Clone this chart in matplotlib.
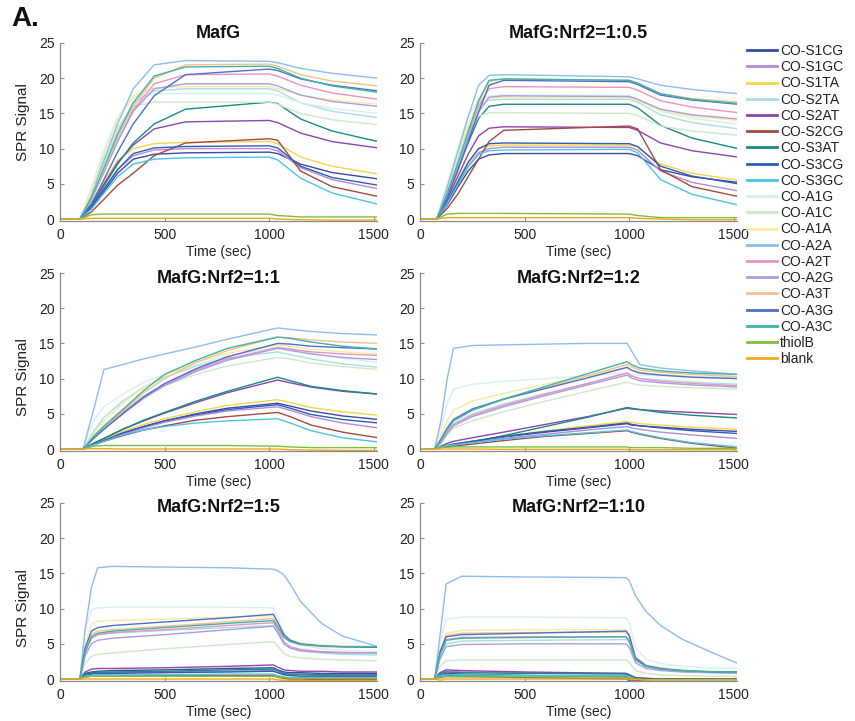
import matplotlib
matplotlib.use('Agg')
import matplotlib.pyplot as plt
from matplotlib.lines import Line2D

plt.rcParams['font.family'] = ['Liberation Sans', 'DejaVu Sans']

names = ['CO-S1CG', 'CO-S1GC', 'CO-S1TA', 'CO-S2TA', 'CO-S2AT', 'CO-S2CG', 'CO-S3AT',
         'CO-S3CG', 'CO-S3GC', 'CO-A1G', 'CO-A1C', 'CO-A1A', 'CO-A2A', 'CO-A2T',
         'CO-A2G', 'CO-A3T', 'CO-A3G', 'CO-A3C', 'thiolB', 'blank']
colors = ['#3b4aa3', '#b58bd6', '#f7d54a', '#a8e0e0', '#8e44ad', '#a44a3f', '#1b8a80',
          '#2e5cb8', '#4cc3ec', '#d6f0f2', '#cfe8c8', '#f8eba0', '#8dbcee', '#ea92c4',
          '#a99ee0', '#f8bf8c', '#4f6fcc', '#3db5a5', '#7fbf3f', '#f2a81d']

titles = ['MafG', 'MafG:Nrf2=1:0.5', 'MafG:Nrf2=1:1', 'MafG:Nrf2=1:2',
          'MafG:Nrf2=1:5', 'MafG:Nrf2=1:10']

# ---- MafG ----
t_mafg = [0, 95, 150, 200, 275, 350, 450, 600, 1000, 1040, 1150, 1300, 1520]
v_mafg = [
    [0, 0, 1.5, 3.5, 6.5, 8.5, 9.2, 9.4, 9.5, 9.3, 7.8, 6.6, 5.7],
    [0, 0, 1.6, 3.8, 7.0, 9.0, 9.8, 10.0, 10.0, 9.7, 7.3, 5.6, 4.3],
    [0, 0, 2.0, 4.8, 8.3, 10.0, 10.7, 10.9, 11.0, 10.7, 8.8, 7.5, 6.4],
    [0, 0, 3.5, 7.0, 12.5, 16.5, 18.2, 18.5, 18.5, 18.2, 16.5, 15.3, 14.4],
    [0, 0, 2.0, 4.5, 8.0, 10.5, 12.8, 13.8, 14.0, 13.7, 12.2, 11.0, 10.1],
    [0, 0, 1.0, 2.5, 4.8, 6.5, 9.0, 10.8, 11.4, 11.2, 6.8, 4.6, 3.2],
    [0, 0, 1.8, 4.2, 7.8, 10.8, 13.5, 15.6, 16.6, 16.4, 14.2, 12.5, 11.0],
    [0, 0, 1.6, 3.8, 7.0, 9.3, 10.1, 10.3, 10.4, 10.1, 7.5, 5.9, 4.8],
    [0, 0, 1.4, 3.3, 6.0, 7.8, 8.5, 8.7, 8.8, 8.4, 5.8, 3.7, 2.1],
    [0, 0, 4.5, 9.0, 14.5, 17.3, 17.8, 17.8, 17.8, 17.6, 16.5, 15.7, 15.0],
    [0, 0, 3.8, 8.0, 13.0, 16.0, 16.6, 16.6, 16.6, 16.3, 15.0, 14.1, 13.4],
    [0, 0, 4.0, 8.5, 14.0, 17.5, 18.6, 18.8, 18.8, 18.5, 17.6, 16.9, 16.3],
    [0, 0, 3.2, 7.5, 13.5, 18.5, 21.9, 22.5, 22.4, 22.2, 21.4, 20.7, 20.0],
    [0, 0, 2.8, 6.0, 11.0, 15.5, 19.2, 20.5, 20.6, 20.3, 19.0, 17.9, 17.0],
    [0, 0, 2.8, 6.0, 11.0, 15.3, 18.5, 19.2, 19.2, 18.9, 17.6, 16.7, 16.0],
    [0, 0, 2.8, 6.2, 11.5, 16.0, 20.0, 21.9, 22.0, 21.7, 20.5, 19.6, 18.9],
    [0, 0, 2.2, 5.0, 9.5, 13.5, 17.5, 20.5, 21.3, 21.1, 19.9, 19.0, 18.2],
    [0, 0, 3.0, 6.5, 12.0, 16.5, 20.3, 21.6, 21.7, 21.4, 20.0, 18.9, 18.0],
    [0, 0, 0.6, 0.7, 0.7, 0.7, 0.7, 0.7, 0.7, 0.5, 0.3, 0.3, 0.3],
    [0, 0, 0.1, 0.1, 0.1, 0.1, 0.1, 0.1, 0.1, 0.0, -0.1, -0.15, -0.15],
]

# ---- MafG:Nrf2=1:0.5 ----
t_r05 = [0, 80, 130, 180, 230, 280, 330, 400, 1000, 1040, 1150, 1300, 1520]
v_r05 = [
    [0, 0, 2.0, 4.5, 6.8, 8.5, 9.1, 9.3, 9.3, 9.0, 7.0, 6.0, 5.2],
    [0, 0, 2.2, 5.0, 7.5, 9.4, 10.0, 10.2, 10.2, 9.8, 6.8, 5.2, 4.0],
    [0, 0, 2.5, 5.5, 8.2, 10.0, 10.4, 10.5, 10.5, 10.2, 7.8, 6.5, 5.5],
    [0, 0, 4.0, 8.5, 12.8, 16.0, 16.9, 17.0, 17.0, 16.6, 14.8, 13.7, 12.8],
    [0, 0, 2.8, 6.0, 9.2, 11.8, 12.9, 13.1, 13.0, 12.6, 10.8, 9.7, 8.8],
    [0, 0, 1.5, 3.5, 6.0, 8.5, 11.0, 12.6, 13.2, 12.8, 7.0, 4.6, 3.2],
    [0, 0, 3.2, 7.0, 10.8, 14.3, 16.0, 16.3, 16.3, 15.8, 13.3, 11.5, 10.0],
    [0, 0, 2.4, 5.2, 8.0, 10.0, 10.7, 10.8, 10.7, 10.3, 7.5, 6.1, 5.0],
    [0, 0, 2.2, 4.8, 7.4, 9.2, 9.7, 9.8, 9.9, 9.4, 5.6, 3.5, 2.0],
    [0, 0, 5.0, 10.0, 14.5, 17.0, 17.5, 17.6, 17.5, 17.1, 15.3, 14.3, 13.5],
    [0, 0, 4.0, 8.5, 12.0, 14.6, 15.1, 15.1, 15.0, 14.7, 13.2, 12.5, 11.9],
    [0, 0, 4.5, 9.2, 13.5, 16.6, 17.2, 17.3, 17.2, 16.8, 15.4, 14.6, 14.0],
    [0, 0, 4.5, 9.5, 14.5, 19.0, 20.4, 20.5, 20.2, 19.9, 19.0, 18.4, 17.8],
    [0, 0, 3.6, 7.8, 12.0, 16.0, 18.5, 18.8, 18.7, 18.3, 16.8, 15.9, 15.1],
    [0, 0, 3.5, 7.5, 11.5, 15.2, 17.3, 17.5, 17.4, 17.0, 15.6, 14.8, 14.2],
    [0, 0, 3.6, 7.8, 12.2, 16.5, 19.6, 19.9, 19.7, 19.3, 17.8, 17.1, 16.6],
    [0, 0, 3.0, 6.8, 11.0, 15.2, 19.0, 19.7, 19.5, 19.1, 17.6, 16.9, 16.3],
    [0, 0, 3.6, 7.8, 12.3, 16.8, 19.7, 19.9, 19.7, 19.3, 17.8, 17.0, 16.4],
    [0, 0, 0.7, 0.8, 0.8, 0.8, 0.8, 0.8, 0.7, 0.5, 0.2, 0.2, 0.2],
    [0, 0, 0.2, 0.2, 0.2, 0.2, 0.2, 0.2, 0.2, 0.1, 0.0, -0.1, -0.1],
]

# ---- MafG:Nrf2=1:1 ----
t_r1 = [0, 110, 160, 210, 300, 400, 500, 650, 800, 1040, 1100, 1200, 1350, 1520]
v_r1 = [
    [0, 0, 0.6, 1.2, 2.2, 3.2, 4.0, 5.0, 5.8, 6.5, 6.1, 5.4, 4.7, 4.2],
    [0, 0, 0.6, 1.1, 2.1, 3.0, 3.8, 4.7, 5.4, 6.0, 5.5, 4.6, 3.7, 3.0],
    [0, 0, 0.8, 1.4, 2.5, 3.5, 4.3, 5.3, 6.2, 7.0, 6.6, 5.9, 5.3, 4.8],
    [0, 0, 2.5, 4.5, 6.8, 8.8, 10.2, 11.8, 12.9, 13.8, 13.4, 12.8, 12.1, 11.6],
    [0, 0, 0.8, 1.5, 2.8, 4.0, 5.1, 6.6, 8.0, 9.8, 9.4, 8.8, 8.2, 7.8],
    [0, 0, 0.6, 1.1, 1.9, 2.7, 3.3, 4.1, 4.6, 5.2, 4.6, 3.4, 2.4, 1.6],
    [0, 0, 0.8, 1.5, 2.8, 4.1, 5.2, 6.8, 8.2, 10.2, 9.7, 8.9, 8.3, 7.8],
    [0, 0, 0.6, 1.2, 2.3, 3.2, 4.0, 4.9, 5.6, 6.3, 5.8, 4.9, 4.2, 3.7],
    [0, 0, 0.6, 1.1, 2.0, 2.7, 3.2, 3.7, 4.0, 4.3, 3.7, 2.6, 1.6, 1.0],
    [0, 0, 4.0, 6.0, 7.8, 9.5, 10.6, 12.0, 13.2, 14.5, 14.2, 13.6, 12.9, 12.3],
    [0, 0, 1.8, 3.4, 5.6, 7.6, 9.0, 10.6, 11.8, 13.0, 12.8, 12.2, 11.7, 11.3],
    [0, 0, 2.2, 4.0, 6.5, 8.8, 10.5, 12.3, 13.6, 14.8, 14.6, 14.2, 13.8, 13.5],
    [0, 0, 5.5, 11.3, 12.0, 12.8, 13.5, 14.5, 15.6, 17.2, 17.0, 16.7, 16.4, 16.2],
    [0, 0, 1.6, 3.0, 5.2, 7.4, 9.2, 11.2, 12.8, 14.4, 14.2, 13.8, 13.5, 13.3],
    [0, 0, 1.5, 2.9, 5.0, 7.2, 9.0, 11.0, 12.6, 14.3, 14.0, 13.5, 13.0, 12.7],
    [0, 0, 1.6, 3.0, 5.4, 8.0, 10.0, 12.3, 14.0, 15.9, 15.8, 15.5, 15.2, 15.0],
    [0, 0, 1.5, 2.8, 5.0, 7.4, 9.3, 11.4, 13.1, 15.0, 14.9, 14.6, 14.4, 14.2],
    [0, 0, 1.8, 3.2, 5.6, 8.3, 10.6, 12.6, 14.3, 15.9, 15.7, 15.2, 14.6, 14.2],
    [0, 0, 0.4, 0.5, 0.5, 0.5, 0.5, 0.5, 0.5, 0.4, 0.3, 0.2, 0.2, 0.2],
    [0, 0, 0.05, 0.05, 0.0, 0.0, 0.0, 0.0, 0.0, 0.0, -0.1, -0.15, -0.2, -0.2],
]

# ---- MafG:Nrf2=1:2 ----
t_r2 = [0, 70, 100, 130, 160, 250, 400, 600, 800, 990, 1010, 1050, 1150, 1300, 1520]
v_r2 = [
    [0, 0, 0.3, 0.5, 0.7, 1.1, 1.7, 2.4, 3.0, 3.6, 3.4, 3.3, 3.1, 2.8, 2.5],
    [0, 0, 0.3, 0.4, 0.6, 1.0, 1.5, 2.1, 2.7, 3.2, 3.0, 2.8, 2.4, 2.0, 1.5],
    [0, 0, 0.3, 0.5, 0.7, 1.1, 1.8, 2.6, 3.3, 3.9, 3.8, 3.6, 3.4, 3.1, 2.8],
    [0, 0, 1.0, 2.5, 3.6, 5.0, 6.4, 7.9, 9.3, 10.8, 10.4, 10.0, 9.8, 9.5, 9.2],
    [0, 0, 0.4, 0.8, 1.1, 1.6, 2.4, 3.5, 4.6, 5.8, 5.7, 5.6, 5.4, 5.2, 4.9],
    [0, 0, 0.2, 0.3, 0.4, 0.7, 1.2, 1.8, 2.2, 2.6, 2.4, 2.1, 1.5, 0.8, 0.1],
    [0, 0, 0.2, 0.4, 0.6, 1.0, 1.9, 3.2, 4.5, 5.9, 5.8, 5.6, 5.2, 4.8, 4.4],
    [0, 0, 0.3, 0.5, 0.7, 1.1, 1.8, 2.5, 3.1, 3.7, 3.5, 3.3, 3.0, 2.6, 2.2],
    [0, 0, 0.3, 0.5, 0.6, 0.9, 1.4, 1.9, 2.3, 2.7, 2.5, 2.2, 1.6, 0.9, 0.3],
    [0, 0, 3.0, 6.5, 8.5, 9.2, 9.6, 10.0, 10.4, 10.8, 10.6, 10.5, 10.4, 10.3, 10.2],
    [0, 0, 0.8, 2.0, 3.0, 4.0, 5.3, 6.8, 8.2, 9.5, 9.3, 9.1, 8.9, 8.7, 8.5],
    [0, 0, 2.0, 4.0, 5.5, 6.8, 7.9, 9.2, 10.4, 11.6, 11.3, 10.9, 10.6, 10.3, 10.0],
    [0, 0, 4.0, 10.0, 14.3, 14.7, 14.8, 14.9, 15.0, 15.0, 14.0, 12.0, 11.5, 11.1, 10.6],
    [0, 0, 1.0, 2.4, 3.5, 4.8, 6.2, 7.8, 9.3, 10.8, 10.4, 10.0, 9.6, 9.3, 9.0],
    [0, 0, 0.9, 2.2, 3.3, 4.6, 6.0, 7.6, 9.1, 10.5, 10.1, 9.7, 9.4, 9.1, 8.8],
    [0, 0, 1.2, 2.8, 4.0, 5.5, 7.0, 8.7, 10.4, 12.0, 11.7, 11.2, 10.9, 10.6, 10.3],
    [0, 0, 1.4, 3.0, 4.2, 5.7, 7.1, 8.6, 10.1, 11.6, 11.2, 10.8, 10.5, 10.2, 10.0],
    [0, 0, 1.2, 2.8, 4.0, 5.5, 7.1, 8.9, 10.7, 12.4, 12.0, 11.5, 11.1, 10.8, 10.6],
    [0, 0, 0.2, 0.3, 0.3, 0.3, 0.3, 0.3, 0.3, 0.3, 0.2, 0.2, 0.2, 0.1, 0.1],
    [0, 0, 0.0, 0.0, 0.0, 0.0, -0.05, -0.05, -0.05, -0.05, -0.1, -0.1, -0.1, -0.1, -0.1],
]

# ---- MafG:Nrf2=1:5 ----
t_r5 = [0, 95, 120, 150, 180, 250, 500, 800, 1020, 1040, 1070, 1100, 1150, 1250, 1350, 1520]
v_r5 = [
    [0, 0, 0.8, 1.0, 1.1, 1.2, 1.3, 1.5, 1.6, 1.3, 1.0, 0.9, 0.9, 0.8, 0.8, 0.8],
    [0, 0, 0.6, 0.8, 0.9, 0.9, 1.0, 1.1, 1.2, 1.0, 0.7, 0.6, 0.6, 0.5, 0.5, 0.5],
    [0, 0, 0.3, 0.4, 0.4, 0.4, 0.4, 0.4, 0.4, 0.2, 0.0, -0.1, -0.2, -0.3, -0.3, -0.3],
    [0, 0, 4.0, 5.8, 6.3, 6.5, 6.9, 7.3, 7.6, 6.6, 5.0, 4.4, 4.0, 3.7, 3.5, 3.4],
    [0, 0, 1.0, 1.4, 1.5, 1.5, 1.6, 1.8, 2.0, 1.7, 1.3, 1.2, 1.1, 1.1, 1.0, 1.0],
    [0, 0, 0.3, 0.4, 0.4, 0.4, 0.5, 0.5, 0.5, 0.3, 0.1, 0.0, 0.0, -0.1, -0.1, -0.1],
    [0, 0, 0.7, 0.9, 1.0, 1.0, 1.1, 1.3, 1.4, 1.2, 0.8, 0.7, 0.7, 0.6, 0.6, 0.6],
    [0, 0, 0.5, 0.7, 0.8, 0.8, 0.9, 1.0, 1.1, 0.9, 0.6, 0.5, 0.4, 0.4, 0.4, 0.4],
    [0, 0, 0.4, 0.5, 0.6, 0.6, 0.6, 0.7, 0.7, 0.5, 0.3, 0.2, 0.2, 0.2, 0.2, 0.2],
    [0, 0, 7.0, 9.8, 10.1, 10.2, 10.2, 10.2, 10.1, 8.8, 6.5, 5.5, 4.8, 4.3, 4.1, 3.9],
    [0, 0, 2.2, 3.2, 3.5, 3.7, 4.3, 4.9, 5.3, 4.7, 3.6, 3.2, 3.0, 2.8, 2.7, 2.6],
    [0, 0, 5.0, 7.8, 8.2, 8.3, 8.5, 8.8, 9.0, 7.9, 6.3, 5.6, 5.1, 4.8, 4.7, 4.6],
    [0, 0, 7.0, 13.0, 15.8, 16.0, 15.9, 15.8, 15.6, 15.4, 14.8, 13.5, 11.0, 7.9, 6.1, 4.6],
    [0, 0, 3.8, 5.8, 6.3, 6.6, 7.0, 7.6, 8.0, 7.0, 5.3, 4.6, 4.2, 3.9, 3.8, 3.7],
    [0, 0, 3.3, 5.0, 5.5, 5.8, 6.3, 7.0, 7.5, 6.6, 5.0, 4.4, 4.0, 3.8, 3.7, 3.7],
    [0, 0, 4.0, 6.3, 6.8, 7.0, 7.5, 8.1, 8.6, 7.6, 6.0, 5.3, 4.9, 4.6, 4.5, 4.5],
    [0, 0, 4.4, 6.8, 7.3, 7.6, 8.1, 8.7, 9.2, 8.1, 6.3, 5.5, 5.0, 4.7, 4.6, 4.5],
    [0, 0, 3.8, 6.0, 6.5, 6.8, 7.3, 7.9, 8.3, 7.4, 5.9, 5.3, 4.9, 4.7, 4.6, 4.6],
    [0, 0, 0.3, 0.4, 0.4, 0.4, 0.4, 0.4, 0.4, 0.3, 0.2, 0.1, 0.1, 0.1, 0.1, 0.1],
    [0, 0, 0.0, 0.0, 0.0, 0.0, 0.0, 0.0, 0.0, -0.1, -0.2, -0.2, -0.2, -0.2, -0.2, -0.2],
]

# ---- MafG:Nrf2=1:10 ----
t_r10 = [0, 70, 95, 125, 200, 500, 985, 1000, 1030, 1080, 1150, 1250, 1400, 1520]
v_r10 = [
    [0, 0, 0.6, 0.8, 0.7, 0.5, 0.3, 0.1, -0.3, -0.4, -0.5, -0.5, -0.5, -0.5],
    [0, 0, 0.8, 1.1, 1.0, 0.9, 0.8, 0.6, 0.2, 0.1, 0.0, 0.0, 0.0, 0.0],
    [0, 0, -0.2, -0.4, -0.6, -0.9, -0.8, -0.8, -0.8, -0.8, -0.8, -0.8, -0.8, -0.8],
    [0, 0, 3.0, 5.0, 5.4, 5.5, 5.6, 5.2, 2.8, 1.8, 1.4, 1.1, 0.9, 0.8],
    [0, 0, 0.9, 1.3, 1.2, 1.0, 0.8, 0.6, 0.2, 0.1, 0.0, 0.0, 0.0, 0.0],
    [0, 0, 0.5, 0.7, 0.6, 0.5, 0.4, 0.2, -0.2, -0.3, -0.4, -0.4, -0.4, -0.4],
    [0, 0, 0.7, 1.0, 0.9, 0.8, 0.7, 0.5, 0.1, 0.0, 0.0, 0.0, 0.0, 0.0],
    [0, 0, 0.4, 0.5, 0.4, 0.2, 0.0, -0.2, -0.5, -0.6, -0.6, -0.6, -0.6, -0.6],
    [0, 0, 0.5, 0.6, 0.6, 0.5, 0.5, 0.3, 0.0, -0.1, -0.1, -0.1, -0.1, -0.1],
    [0, 0, 5.0, 8.5, 8.8, 8.8, 8.7, 8.0, 4.5, 2.8, 2.2, 1.8, 1.6, 1.5],
    [0, 0, 1.8, 2.6, 2.7, 2.7, 2.7, 2.4, 1.2, 0.8, 0.6, 0.5, 0.4, 0.4],
    [0, 0, 4.0, 6.5, 6.9, 7.0, 7.0, 6.3, 3.2, 2.0, 1.6, 1.3, 1.1, 1.0],
    [0, 0, 6.0, 13.5, 14.6, 14.5, 14.4, 14.0, 11.8, 9.6, 7.6, 5.7, 3.7, 2.2],
    [0, 0, 3.4, 5.6, 5.9, 6.0, 6.0, 5.4, 2.7, 1.8, 1.4, 1.2, 1.0, 1.0],
    [0, 0, 2.8, 4.6, 4.9, 5.0, 5.0, 4.5, 2.3, 1.5, 1.2, 1.0, 0.9, 0.8],
    [0, 0, 3.8, 6.2, 6.5, 6.6, 6.7, 6.1, 3.0, 1.9, 1.5, 1.2, 1.0, 0.9],
    [0, 0, 3.8, 6.0, 6.3, 6.5, 6.8, 6.2, 3.0, 1.9, 1.5, 1.2, 1.0, 1.0],
    [0, 0, 3.4, 5.5, 5.8, 5.9, 6.0, 5.4, 2.7, 1.8, 1.4, 1.2, 1.0, 1.0],
    [0, 0, 0.2, 0.3, 0.3, 0.3, 0.3, 0.2, 0.0, -0.1, -0.1, -0.1, -0.1, -0.1],
    [0, 0, 0.0, 0.0, 0.0, 0.0, 0.0, 0.0, -0.1, -0.1, -0.1, -0.1, -0.1, -0.1],
]

panels = [(t_mafg, v_mafg), (t_r05, v_r05), (t_r1, v_r1),
          (t_r2, v_r2), (t_r5, v_r5), (t_r10, v_r10)]

W, H = 855, 721
fig = plt.figure(figsize=(W / 100, H / 100), dpi=100)

cols = [(60, 377), (420, 737)]
rows = [(43, 221), (273, 451), (503, 681)]
ylabel_y = [122, 377, 608]

axis_grey = '#8a8a8a'
text_col = '#222222'

for i, (tt, vals) in enumerate(panels):
    r, c = divmod(i, 2)
    l, rr = cols[c]
    top, bot = rows[r]
    ax = fig.add_axes([l / W, 1 - bot / H, (rr - l) / W, (bot - top) / H])
    for k, v in enumerate(vals):
        ax.plot(tt, v, color=colors[k], lw=1.0, solid_joinstyle='round')
    ax.set_xlim(0, 1515)
    ax.set_ylim(-0.28, 25)
    ax.set_xticks([0, 500, 1000, 1500])
    ax.set_yticks([0, 5, 10, 15, 20, 25])
    for s in ['top', 'right']:
        ax.spines[s].set_visible(False)
    for s in ['left', 'bottom']:
        ax.spines[s].set_color(axis_grey)
        ax.spines[s].set_linewidth(0.9)
    ax.tick_params(direction='in', length=3, width=0.8, color=axis_grey,
                   labelsize=10, labelcolor=text_col)
    ax.tick_params(axis='y', pad=4)
    ax.tick_params(axis='x', pad=5)
    ax.set_xlabel('Time (sec)', fontsize=10, color=text_col, labelpad=2)
    ax.patch.set_alpha(0)
    # title
    ty = top - 10 if r == 0 else top + 5
    fig.text((l + rr) / 2 / W, 1 - ty / H, titles[i], ha='center', va='center',
             fontsize=13, fontweight='bold', color='#111111')
    if c == 0:
        fig.text(23 / W, 1 - ylabel_y[r] / H, 'SPR Signal', rotation=90,
                 ha='center', va='center', fontsize=11, color=text_col)

fig.text(11 / W, 1 - 19 / H, 'A.', ha='left', va='center', fontsize=20,
         fontweight='bold', color='#111111')

handles = [Line2D([0], [0], color=colors[k], lw=2) for k in range(len(names))]
fig.legend(handles, names, loc='upper left', bbox_to_anchor=(747 / W, 1 - 44 / H),
           frameon=False, fontsize=10, handlelength=2.15, handletextpad=0.25,
           labelspacing=0.16, borderpad=0, borderaxespad=0,
           labelcolor=text_col)

fig.savefig('out.png', dpi=100)
